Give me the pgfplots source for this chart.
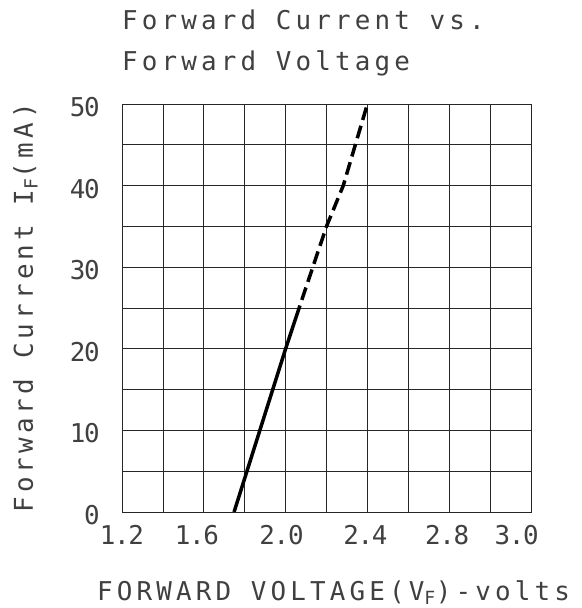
\documentclass[border=0pt]{standalone}
\usepackage{pgfplots}
\pgfplotsset{compat=1.18}
\usepackage{fontspec}
\setmainfont{DejaVu Sans Mono}
\newfontfamily\labfont{DejaVu Sans Mono}[LetterSpace=16]
\newfontfamily\tickfont{DejaVu Sans Mono}[LetterSpace=-5]
\definecolor{txt}{gray}{0.25}
\begin{document}
\begin{tikzpicture}
\useasboundingbox (-122bp,-96bp) rectangle (460bp,512bp);
\begin{axis}[
  scale only axis, width=409bp, height=408bp,
  anchor=south west, at={(0,0)},
  xmin=1.2, xmax=3.2, ymin=0, ymax=50,
  xtick={1.2,1.566,1.98,2.39,2.79,3.13},
  xticklabels={1.2,1.6,2.0,2.4,2.8,3.0},
  ytick={0,10,20,30,40,50},
  minor xtick={1.2,1.4,1.6,1.8,2.0,2.2,2.4,2.6,2.8,3.0,3.2},
  minor ytick={0,5,10,15,20,25,30,35,40,45,50},
  major tick length=0pt, minor tick length=0pt,
  grid=minor,
  minor grid style={black!85, line width=0.8bp},
  axis line style={black!85, line width=0.8bp},
  /pgf/number format/assume math mode=true,
  ticklabel style={font=\fontsize{26}{28}\tickfont, text=txt, inner sep=0pt},
  xticklabel style={anchor=north, yshift=-13bp},
  yticklabel style={anchor=east, xshift=-22bp, yshift=-3bp},
]
\addplot[black, line width=3.5bp, line join=round] coordinates {(1.748,0) (2.0,20) (2.07,25.3)};
\addplot[black, line width=3.5bp, line join=round, dash pattern=on 13bp off 6bp, dash phase=13bp] coordinates {(2.07,25.3) (2.2,35) (2.282,40) (2.4,50)};
\end{axis}
\node[anchor=base west, inner sep=0pt, font=\fontsize{26}{28}\labfont, text=txt] at (0,482.5bp) {Forward Current vs.};
\node[anchor=base west, inner sep=0pt, font=\fontsize{26}{28}\labfont, text=txt] at (0,441bp) {Forward Voltage};
\node[anchor=base west, inner sep=0pt, font=\fontsize{26}{28}\labfont, text=txt] at (-25bp,-88bp) {FORWARD VOLTAGE(V\textsubscript{F})-volts};
\node[anchor=base, rotate=90, inner sep=0pt, font=\fontsize{26}{28}\labfont, text=txt] at (-89bp,204bp) {Forward Current I\textsubscript{F}(mA)};
\end{tikzpicture}
\end{document}
